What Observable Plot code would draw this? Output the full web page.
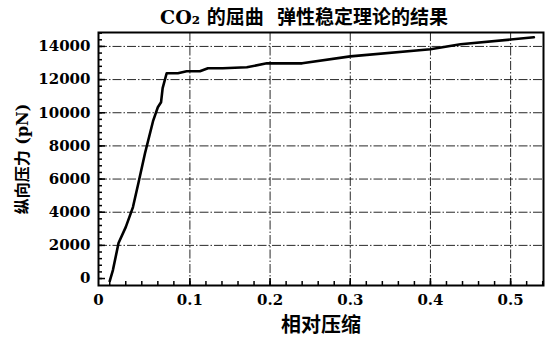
<!DOCTYPE html>
<html><head><meta charset="utf-8">
<script src="https://cdn.jsdelivr.net/npm/d3@7"></script>
<script src="https://cdn.jsdelivr.net/npm/@observablehq/plot@0.6"></script>
<style>body{margin:0;background:#fff}</style>
</head><body><div id="chart"></div>
<script>
const title = "CO₂ 的屈曲  弹性稳定理论的结果";
const xLabel = "相对压缩";
const yLabel = "纵向压力 (pN)";
const strain = [0.0, 0.004, 0.011, 0.020, 0.029, 0.036, 0.044, 0.054, 0.060, 0.064, 0.066, 0.071, 0.085, 0.096, 0.1125, 0.1225, 0.141, 0.171, 0.196, 0.2125, 0.24, 0.30, 0.40, 0.4375, 0.529];
const force  = [-150, 510, 2140, 3100, 4310, 5810, 7560, 9490, 10330, 10630, 11480, 12380, 12380, 12500, 12500, 12680, 12680, 12740, 12980, 12980, 12980, 13400, 13830, 14130, 14550];
const xTicks = [0.1, 0.2, 0.3, 0.4, 0.5];
const yTicks = [0, 2000, 4000, 6000, 8000, 10000, 12000, 14000];
const yGrid = [2000, 4000, 6000, 8000, 10000, 12000, 14000];
const xMinor = d3.range(0, 0.541, 0.02);
const yMinor = d3.range(0, 14801, 400);

const data = strain.map((s, i) => ({s, f: force[i]}));
const font = "DejaVu Serif, Noto Sans CJK SC, serif";
const W = 550, H = 338, ML = 98, MR = 7, MT = 32, MB = 53;
const fw = W - ML - MR, fh = H - MT - MB;

const chart = Plot.plot({
  width: W, height: H,
  marginLeft: ML, marginRight: MR, marginTop: MT, marginBottom: MB,
  style: {fontFamily: font, fontWeight: "bold", fontSize: "15px", background: "#fff", color: "#000"},
  x: {domain: [-0.014, 0.541], label: null},
  y: {domain: [-420, 14840], label: null},
  marks: [
    Plot.gridX({ticks: xTicks, stroke: "#111", strokeOpacity: 0.9, strokeWidth: 1, strokeDasharray: "9,2,1.5,2"}),
    Plot.gridY({ticks: yGrid, stroke: "#111", strokeOpacity: 0.9, strokeWidth: 1, strokeDasharray: "9,2,1.5,2"}),
    Plot.tickX(xMinor, {x: d => d, insetTop: fh - 4, stroke: "#000", strokeWidth: 1.5}),
    Plot.tickX(xTicks, {x: d => d, insetTop: fh - 7, stroke: "#000", strokeWidth: 1.5}),
    Plot.tickY(yMinor, {y: d => d, insetRight: fw - 4, stroke: "#000", strokeWidth: 1.5}),
    Plot.tickY(yTicks, {y: d => d, insetRight: fw - 7, stroke: "#000", strokeWidth: 1.5}),
    Plot.axisX({ticks: xTicks, tickSize: 0, tickPadding: 9, tickFormat: d => d.toFixed(1), fontSize: 15, fontWeight: "bold", label: null}),
    Plot.axisY({ticks: yTicks, tickSize: 0, tickPadding: 8, tickFormat: d => String(d), fontSize: 15, fontWeight: "bold", label: null}),
    Plot.text(["0"], {frameAnchor: "bottom-left", textAnchor: "middle", lineAnchor: "top", dy: 9, fontSize: 15, fontWeight: "bold"}),
    Plot.line(data, {x: "s", y: "f", stroke: "#000", strokeWidth: 2.6, strokeLinejoin: "round", strokeLinecap: "round"}),
    Plot.frame({stroke: "#000", strokeWidth: 2}),
    Plot.text([title], {frameAnchor: "top", textAnchor: "middle", lineAnchor: "middle", dy: -15, dx: -17, fontSize: 19, fontWeight: "bold", fontFamily: font}),
    Plot.text([xLabel], {frameAnchor: "bottom", textAnchor: "middle", lineAnchor: "middle", dy: 40, fontSize: 20, fontWeight: "bold", fontFamily: font}),
    Plot.text([yLabel], {frameAnchor: "left", textAnchor: "middle", lineAnchor: "middle", dx: -76, rotate: -90, fontSize: 16, fontWeight: "bold", fontFamily: font})
  ]
});
document.getElementById("chart").append(chart);
</script>
</body></html>
